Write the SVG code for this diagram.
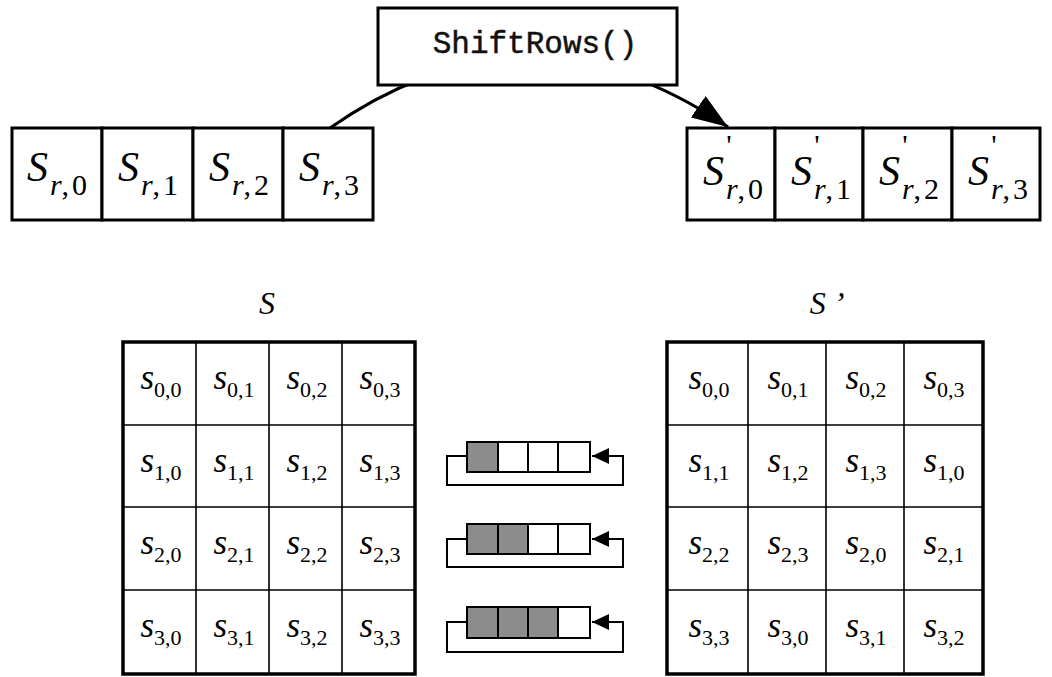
<svg xmlns="http://www.w3.org/2000/svg" width="1052" height="677" viewBox="0 0 1052 677">
  <defs>
    <style>
      .box { fill: #fff; stroke: #000; stroke-width: 3; }
      .cell { fill: none; stroke: #000; stroke-width: 1.6; }
      .frame { fill: none; stroke: #000; stroke-width: 3.5; }
      .shade { fill: #8c8c8c; stroke: #000; stroke-width: 2; }
      .plain { fill: #fff; stroke: #000; stroke-width: 2; }
      .loop { fill: none; stroke: #000; stroke-width: 2; }
      .edge { fill: none; stroke: #000; stroke-width: 3; }
      .math { font-family: "Liberation Serif", "Times New Roman", serif; fill: #000; }
      .it { font-style: italic; }
      .code { font-family: "Liberation Mono", "Courier New", monospace; font-size: 31px; fill: #111; stroke: #111; stroke-width: 0.5; }
      .big { font-size: 42px; }
      .sub { font-size: 30px; }
      .cs { font-size: 35px; }
      .csub { font-size: 22px; }
      .prime { font-size: 30px; }
    </style>
    <marker id="head" markerUnits="userSpaceOnUse" markerWidth="38" markerHeight="26" refX="36" refY="13" orient="auto">
      <polygon points="0,0 36,13 0,26" fill="#000"/>
    </marker>
    <marker id="small-head" markerUnits="userSpaceOnUse" markerWidth="18" markerHeight="16" refX="17" refY="8" orient="auto">
      <polygon points="0,0 17,8 0,16" fill="#000"/>
    </marker>
  </defs>

  <rect width="1052" height="677" fill="#fff"/>

  <!-- arc from the input row, through the ShiftRows() step, to the output row -->
  <g id="connectors">
    <path class="edge" d="M330,128 Q527,-10 728,127" marker-end="url(#head)"/>
  </g>

  <!-- ShiftRows() operation -->
  <g id="shiftrows">
    <rect class="box" x="378" y="8" width="299" height="77"/>
    <text class="code" x="535" y="53" text-anchor="middle">ShiftRows()</text>
  </g>

  <!-- input row r of the state -->
  <g id="row-in">
    <rect class="box" x="12" y="128" width="90" height="92"/>
    <rect class="box" x="102" y="128" width="91" height="92"/>
    <rect class="box" x="193" y="128" width="90" height="92"/>
    <rect class="box" x="283" y="128" width="90" height="92"/>
    <text class="math" x="57" y="181" text-anchor="middle"><tspan class="it big">S</tspan><tspan class="sub" dx="2" dy="14"><tspan class="it">r</tspan>,<tspan dx="3">0</tspan></tspan></text>
    <text class="math" x="148" y="181" text-anchor="middle"><tspan class="it big">S</tspan><tspan class="sub" dx="2" dy="14"><tspan class="it">r</tspan>,<tspan dx="3">1</tspan></tspan></text>
    <text class="math" x="239" y="181" text-anchor="middle"><tspan class="it big">S</tspan><tspan class="sub" dx="2" dy="14"><tspan class="it">r</tspan>,<tspan dx="3">2</tspan></tspan></text>
    <text class="math" x="329" y="181" text-anchor="middle"><tspan class="it big">S</tspan><tspan class="sub" dx="2" dy="14"><tspan class="it">r</tspan>,<tspan dx="3">3</tspan></tspan></text>
  </g>

  <!-- output row r of the state -->
  <g id="row-out">
    <rect class="box" x="687" y="128" width="88" height="92"/>
    <rect class="box" x="775" y="128" width="88" height="92"/>
    <rect class="box" x="863" y="128" width="89" height="92"/>
    <rect class="box" x="952" y="128" width="88" height="92"/>
    <text class="math" x="733" y="185" text-anchor="middle"><tspan class="it big">S</tspan><tspan class="sub" dx="2" dy="14"><tspan class="it">r</tspan>,<tspan dx="3">0</tspan></tspan></text>
    <text class="math" x="821" y="185" text-anchor="middle"><tspan class="it big">S</tspan><tspan class="sub" dx="2" dy="14"><tspan class="it">r</tspan>,<tspan dx="3">1</tspan></tspan></text>
    <text class="math" x="909" y="185" text-anchor="middle"><tspan class="it big">S</tspan><tspan class="sub" dx="2" dy="14"><tspan class="it">r</tspan>,<tspan dx="3">2</tspan></tspan></text>
    <text class="math" x="998" y="185" text-anchor="middle"><tspan class="it big">S</tspan><tspan class="sub" dx="2" dy="14"><tspan class="it">r</tspan>,<tspan dx="3">3</tspan></tspan></text>
    <text class="math prime" x="729" y="155" text-anchor="middle">'</text>
    <text class="math prime" x="817" y="155" text-anchor="middle">'</text>
    <text class="math prime" x="905" y="155" text-anchor="middle">'</text>
    <text class="math prime" x="994" y="155" text-anchor="middle">'</text>
  </g>

  <!-- state s before the step -->
  <g id="state-s">
    <text class="math it" x="267" y="314" font-size="32" text-anchor="middle">S</text>
    <path class="cell" d="M196,342V675M269,342V675M342,342V675M123,425H415M123,507H415M123,590H415"/>
    <rect class="frame" x="123" y="342" width="292" height="332"/>
    <g class="math" text-anchor="middle">
      <text x="161" y="389"><tspan class="it cs">s</tspan><tspan class="csub" dy="8">0,0</tspan></text>
      <text x="234" y="389"><tspan class="it cs">s</tspan><tspan class="csub" dy="8">0,1</tspan></text>
      <text x="307" y="389"><tspan class="it cs">s</tspan><tspan class="csub" dy="8">0,2</tspan></text>
      <text x="380" y="389"><tspan class="it cs">s</tspan><tspan class="csub" dy="8">0,3</tspan></text>
      <text x="161" y="472"><tspan class="it cs">s</tspan><tspan class="csub" dy="8">1,0</tspan></text>
      <text x="234" y="472"><tspan class="it cs">s</tspan><tspan class="csub" dy="8">1,1</tspan></text>
      <text x="307" y="472"><tspan class="it cs">s</tspan><tspan class="csub" dy="8">1,2</tspan></text>
      <text x="380" y="472"><tspan class="it cs">s</tspan><tspan class="csub" dy="8">1,3</tspan></text>
      <text x="161" y="554"><tspan class="it cs">s</tspan><tspan class="csub" dy="8">2,0</tspan></text>
      <text x="234" y="554"><tspan class="it cs">s</tspan><tspan class="csub" dy="8">2,1</tspan></text>
      <text x="307" y="554"><tspan class="it cs">s</tspan><tspan class="csub" dy="8">2,2</tspan></text>
      <text x="380" y="554"><tspan class="it cs">s</tspan><tspan class="csub" dy="8">2,3</tspan></text>
      <text x="161" y="637"><tspan class="it cs">s</tspan><tspan class="csub" dy="8">3,0</tspan></text>
      <text x="234" y="637"><tspan class="it cs">s</tspan><tspan class="csub" dy="8">3,1</tspan></text>
      <text x="307" y="637"><tspan class="it cs">s</tspan><tspan class="csub" dy="8">3,2</tspan></text>
      <text x="380" y="637"><tspan class="it cs">s</tspan><tspan class="csub" dy="8">3,3</tspan></text>
    </g>
  </g>

  <!-- cyclic left shifts by 1, 2 and 3 positions -->
  <g id="shift-1">
    <rect class="shade" x="467" y="442" width="31" height="30"/>
    <rect class="plain" x="498" y="442" width="30" height="30"/>
    <rect class="plain" x="528" y="442" width="30" height="30"/>
    <rect class="plain" x="558" y="442" width="32" height="30"/>
    <path class="loop" d="M467,456H447V485H623V456H592" marker-end="url(#small-head)"/>
  </g>
  <g id="shift-2">
    <rect class="shade" x="467" y="524" width="31" height="30"/>
    <rect class="shade" x="498" y="524" width="30" height="30"/>
    <rect class="plain" x="528" y="524" width="30" height="30"/>
    <rect class="plain" x="558" y="524" width="32" height="30"/>
    <path class="loop" d="M467,539H447V567H623V539H592" marker-end="url(#small-head)"/>
  </g>
  <g id="shift-3">
    <rect class="shade" x="467" y="607" width="31" height="31"/>
    <rect class="shade" x="498" y="607" width="30" height="31"/>
    <rect class="shade" x="528" y="607" width="30" height="31"/>
    <rect class="plain" x="558" y="607" width="32" height="31"/>
    <path class="loop" d="M467,622H447V652H623V622H592" marker-end="url(#small-head)"/>
  </g>

  <!-- state s' after the step -->
  <g id="state-s-prime">
    <text class="math it" x="827" y="314" font-size="32" text-anchor="middle">S ’</text>
    <path class="cell" d="M748,342V675M826,342V675M904,342V675M667,425H983M667,507H983M667,590H983"/>
    <rect class="frame" x="667" y="342" width="316" height="332"/>
    <g class="math" text-anchor="middle">
      <text x="709" y="389"><tspan class="it cs">s</tspan><tspan class="csub" dy="8">0,0</tspan></text>
      <text x="788" y="389"><tspan class="it cs">s</tspan><tspan class="csub" dy="8">0,1</tspan></text>
      <text x="866" y="389"><tspan class="it cs">s</tspan><tspan class="csub" dy="8">0,2</tspan></text>
      <text x="944" y="389"><tspan class="it cs">s</tspan><tspan class="csub" dy="8">0,3</tspan></text>
      <text x="709" y="472"><tspan class="it cs">s</tspan><tspan class="csub" dy="8">1,1</tspan></text>
      <text x="788" y="472"><tspan class="it cs">s</tspan><tspan class="csub" dy="8">1,2</tspan></text>
      <text x="866" y="472"><tspan class="it cs">s</tspan><tspan class="csub" dy="8">1,3</tspan></text>
      <text x="944" y="472"><tspan class="it cs">s</tspan><tspan class="csub" dy="8">1,0</tspan></text>
      <text x="709" y="554"><tspan class="it cs">s</tspan><tspan class="csub" dy="8">2,2</tspan></text>
      <text x="788" y="554"><tspan class="it cs">s</tspan><tspan class="csub" dy="8">2,3</tspan></text>
      <text x="866" y="554"><tspan class="it cs">s</tspan><tspan class="csub" dy="8">2,0</tspan></text>
      <text x="944" y="554"><tspan class="it cs">s</tspan><tspan class="csub" dy="8">2,1</tspan></text>
      <text x="709" y="637"><tspan class="it cs">s</tspan><tspan class="csub" dy="8">3,3</tspan></text>
      <text x="788" y="637"><tspan class="it cs">s</tspan><tspan class="csub" dy="8">3,0</tspan></text>
      <text x="866" y="637"><tspan class="it cs">s</tspan><tspan class="csub" dy="8">3,1</tspan></text>
      <text x="944" y="637"><tspan class="it cs">s</tspan><tspan class="csub" dy="8">3,2</tspan></text>
    </g>
  </g>
</svg>
